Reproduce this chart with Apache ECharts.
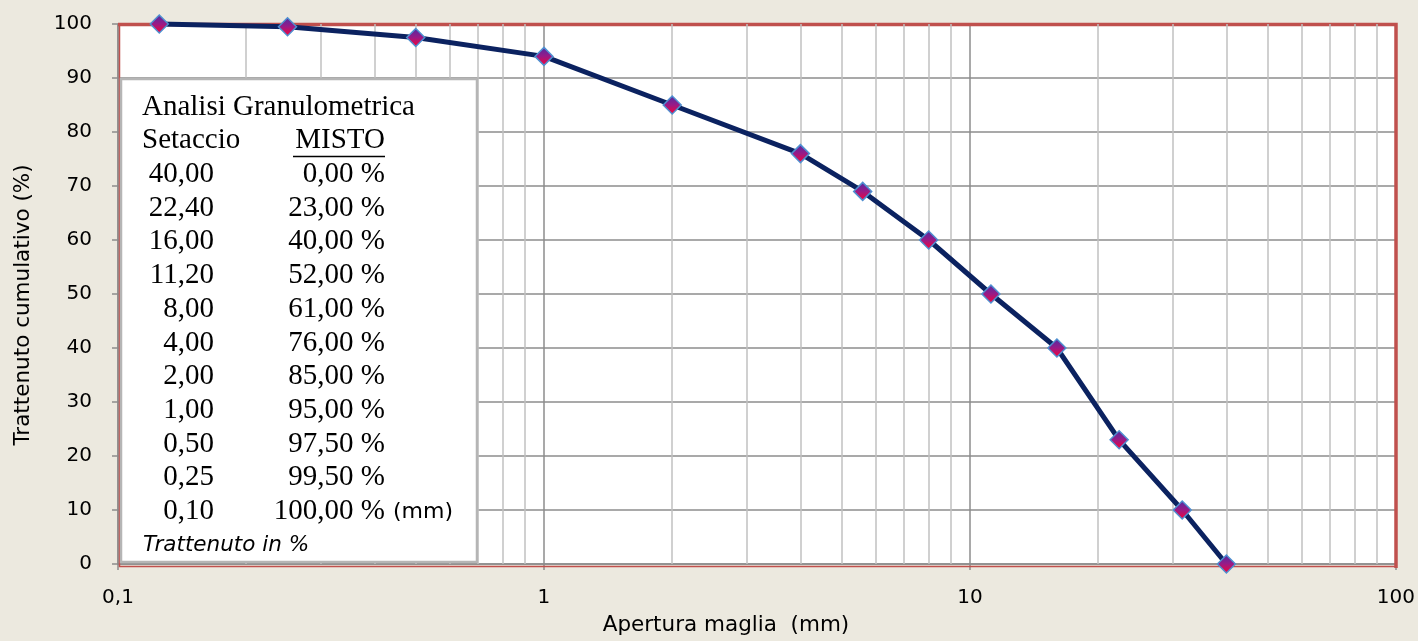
<!DOCTYPE html>
<html>
<head>
<meta charset="utf-8">
<script src="https://cdn.jsdelivr.net/npm/echarts@6/dist/echarts.min.js"></script>
<style>
html,body{margin:0;padding:0;background:#ece9df;}
#chart{width:1418px;height:641px;}
</style>
</head>
<body>
<div id="chart"></div>
<script>
// Plotted data: sieve opening (mm) vs cumulative retained (%)
var sieveSizes = [0.125, 0.25, 0.5, 1, 2, 4, 5.6, 8, 11.2, 16, 22.4, 31.5, 40];
var retained   = [100, 99.5, 97.5, 94, 85, 76, 69, 60, 50, 40, 23, 10, 0];

// Minor log grid values
var minorGrid = [0.2,0.3,0.4,0.5,0.6,0.7,0.8,0.9, 2,3,4,5,6,7,8,9, 20,30,40,50,60,70,80,90];

// Table in the text box
var tableTitle = 'Analisi Granulometrica';
var tableHeadLeft = 'Setaccio';
var tableHeadRight = 'MISTO';
var tableSieves  = ['40,00','22,40','16,00','11,20','8,00','4,00','2,00','1,00','0,50','0,25','0,10'];
var tablePercent = ['0,00 %','23,00 %','40,00 %','52,00 %','61,00 %','76,00 %','85,00 %','95,00 %','97,50 %','99,50 %','100,00 %'];
var tableUnit = '(mm)';
var tableNote = 'Trattenuto in %';

var SANS = '"DejaVu Sans", sans-serif';
var SERIF = '"Liberation Serif", "DejaVu Serif", serif';

var chart = echarts.init(document.getElementById('chart'), null, {renderer:'canvas'});

var pts = sieveSizes.map(function(x,i){ return [x, retained[i]]; });

// Plot area bounds (layout)
var GL = 118, GT = 24, GR = 1397, GB = 568;

// Text box graphics
var boxX = 121, boxY = 79, boxW = 356, boxH = 483;
var rowY0 = 107, rowStep = 33.7;
var fs = 29;
var ZB = 100;
var children = [];
// red plot-area frame
children.push({type:'polyline', z:5, silent:true, shape:{points:[[GL+1.5,GT+0.5],[GL+1.5,GB-1.5],[GR-1,GB-1.5]]},
  style:{fill:null, stroke:'#c0504d', lineWidth:1.5}});
children.push({type:'polyline', z:5, silent:true, shape:{points:[[GL,GT+0.5],[GR-1,GT+0.5],[GR-1,GB]]},
  style:{fill:null, stroke:'#c0504d', lineWidth:3.5}});

children.push({type:'rect', z:ZB, shape:{x:boxX,y:boxY,width:boxW,height:boxH},
  style:{fill:'#ffffff', stroke:'#b5b5b5', lineWidth:2.5}});
children.push({type:'text', z:ZB+1, style:{x:142, y:rowY0, text:tableTitle, font:fs+'px '+SERIF, fill:'#000', textAlign:'left', textVerticalAlign:'middle'}});
children.push({type:'text', z:ZB+1, style:{x:142, y:rowY0+rowStep, text:tableHeadLeft, font:fs+'px '+SERIF, fill:'#000', textAlign:'left', textVerticalAlign:'middle'}});
children.push({type:'text', z:ZB+1, style:{x:385, y:rowY0+rowStep, text:tableHeadRight, font:fs+'px '+SERIF, fill:'#000', textAlign:'right', textVerticalAlign:'middle'}});
children.push({type:'line', z:ZB+1, shape:{x1:293,y1:156.5,x2:385,y2:156.5}, style:{stroke:'#000', lineWidth:1.6}});
for (var i=0;i<tableSieves.length;i++){
  var yy = rowY0 + rowStep*(i+2);
  children.push({type:'text', z:ZB+1, style:{x:214, y:yy, text:tableSieves[i], font:fs+'px '+SERIF, fill:'#000', textAlign:'right', textVerticalAlign:'middle'}});
  children.push({type:'text', z:ZB+1, style:{x:385, y:yy, text:tablePercent[i], font:fs+'px '+SERIF, fill:'#000', textAlign:'right', textVerticalAlign:'middle'}});
}
children.push({type:'text', z:ZB+1, style:{x:393, y:rowY0+rowStep*(tableSieves.length+1)+1, text:tableUnit, font:'22px '+SANS, fill:'#000', textAlign:'left', textVerticalAlign:'middle'}});
children.push({type:'text', z:ZB+1, style:{x:143, y:rowY0+rowStep*(tableSieves.length+2), text:tableNote, font:'italic 21.5px '+SANS, fill:'#000', textAlign:'left', textVerticalAlign:'middle'}});

var option = {
  backgroundColor:'#ece9df',
  animation:false,
  grid:{left:GL, right:1418-GR, top:GT, bottom:641-GB, show:true, backgroundColor:'#ffffff', borderWidth:0, containLabel:false},
  xAxis:{
    type:'log', logBase:10, min:0.1, max:100,
    name:'Apertura maglia  (mm)', nameLocation:'middle', nameGap:50,
    nameTextStyle:{fontFamily:SANS, fontSize:21.5, color:'#000', padding:[0,62,0,0]},
    axisLine:{show:true, lineStyle:{color:'#8c8c8c', width:1.5}},
    axisTick:{show:true, length:6, lineStyle:{color:'#8c8c8c', width:1.5}},
    axisLabel:{fontFamily:SANS, fontSize:20, color:'#000', margin:24,
      formatter:function(v){ return String(v).replace('.', ','); }},
    splitLine:{show:true, lineStyle:{color:'#8c8c8c', width:1.5}}
  },
  yAxis:{
    type:'value', min:0, max:100, interval:10,
    name:'Trattenuto cumulativo (%)', nameLocation:'middle', nameGap:84,
    nameTextStyle:{fontFamily:SANS, fontSize:21.5, color:'#000', padding:[0,22,0,0]},
    axisLine:{show:true, lineStyle:{color:'#8c8c8c', width:1.5}},
    axisTick:{show:true, length:6, lineStyle:{color:'#8c8c8c', width:1.5}},
    axisLabel:{fontFamily:SANS, fontSize:20, color:'#000', margin:26},
    splitLine:{show:true, lineStyle:{color:'#8c8c8c', width:1.5}}
  },
  graphic:children,
  series:[
    {
      type:'line', data:[], z:1, silent:true,
      markLine:{silent:true, symbol:['none','none'], label:{show:false},
        lineStyle:{color:'#c0c0c0', width:1.5, type:'solid'},
        data: minorGrid.map(function(v){ return {xAxis:v}; })}
    },
    {
      type:'line', data:pts, z:10, clip:false,
      lineStyle:{color:'#0b2260', width:5},
      symbol:'diamond', symbolSize:18,
      itemStyle:{
        color:{type:'linear', x:0, y:0, x2:0, y2:1, colorStops:[{offset:0,color:'#4a2ea6'},{offset:0.5,color:'#9a1a86'},{offset:1,color:'#ff0030'}]},
        borderColor:'#4f8fd0', borderWidth:1.5
      }
    }
  ]
};
chart.setOption(option);
</script>
</body>
</html>
